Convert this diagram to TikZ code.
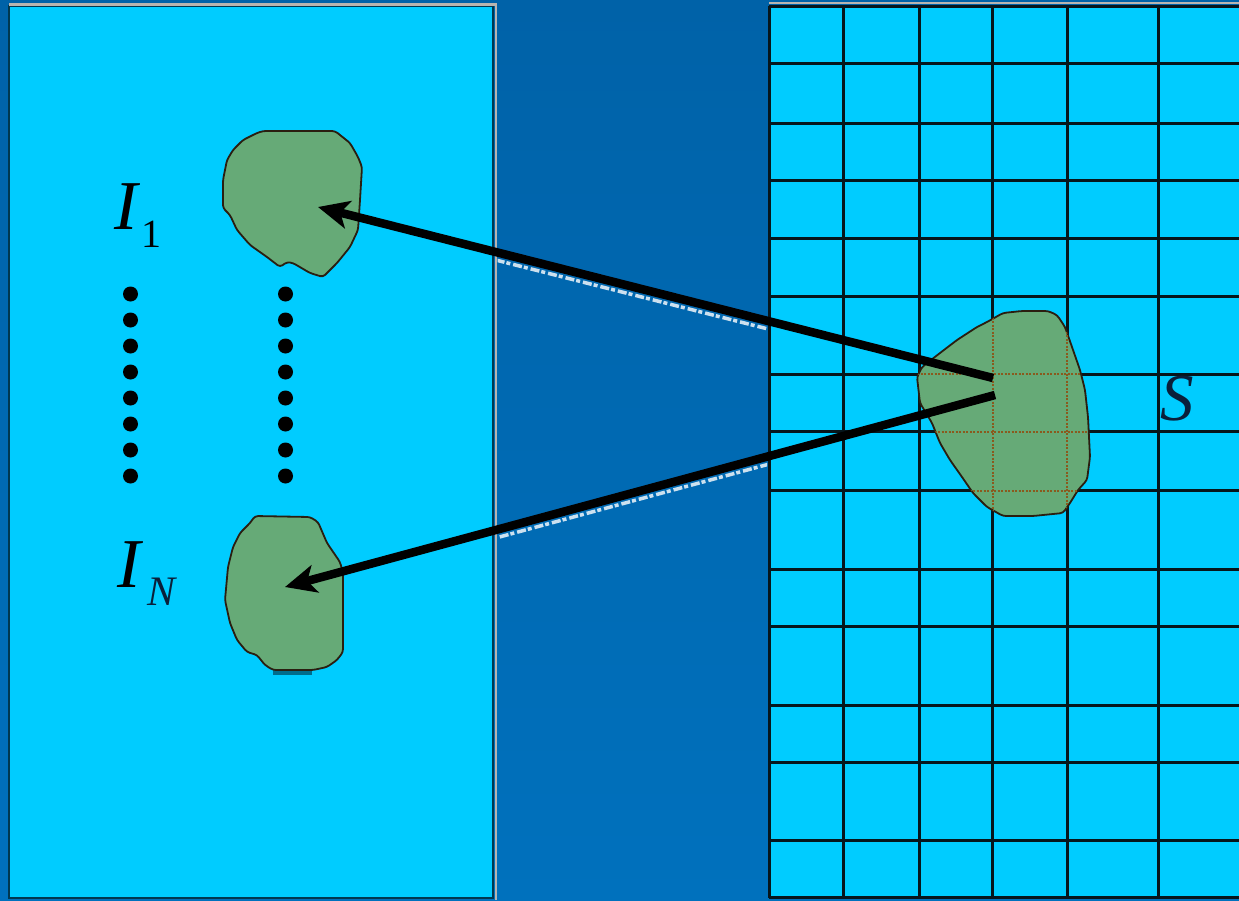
\documentclass[tikz,border=0pt]{standalone}
\usepackage{fontspec}
\setmainfont{Liberation Serif}
\usetikzlibrary{arrows.meta,calc}
\definecolor{bgtop}{HTML}{0062A8}
\definecolor{bgbot}{HTML}{0071BD}
\definecolor{panel}{HTML}{00CCFF}
\definecolor{blobfill}{HTML}{66AA77}
\definecolor{blobline}{HTML}{2A1E10}
\definecolor{browndot}{HTML}{8A5A1E}
\definecolor{rim}{HTML}{B8B4B0}
\definecolor{edge}{HTML}{003850}
\definecolor{gridline}{HTML}{06161C}
\definecolor{snavy}{HTML}{0A1F3A}
\definecolor{teal}{HTML}{006C8C}
\tikzset{
  gridln/.style={draw=gridline, line width=3pt},
  blobshape/.style={fill=blobfill, draw=blobline, line width=1.8pt, rounded corners=3pt},
  dotgrid/.style={draw=browndot, line width=2pt, dash pattern=on 2pt off 1.5pt},
  dotmark/.style={circle, fill=black, inner sep=0pt, minimum size=15pt},
  lbl/.style={inner sep=0pt, font=\fontsize{70}{70}\selectfont\itshape},
  arr/.style={draw=black, line width=8.5pt, -{Stealth[length=31pt,width=28pt,inset=8pt]}},
  ghost/.style={draw=white, opacity=0.8, line width=3.5pt, dash pattern=on 9pt off 3pt on 4pt off 2pt}
}
\begin{document}
\begin{tikzpicture}[x=1pt,y=-1pt]
\useasboundingbox (0,0) rectangle (1239,900);
% background
\shade[top color=bgtop, bottom color=bgbot] (0,0) rectangle (1239,900);
% left panel
\fill[panel] (9,6) rectangle (493,898);
\draw[edge, line width=1.2pt] (9,6) rectangle (493,898);
\draw[rim, line width=2.4pt] (9,4.5) -- (495.8,4.5) -- (495.8,900);
% right panel
\fill[panel] (769,6) rectangle (1245,897);
\draw[rim, line width=1.5pt] (769,2.8) -- (1239,2.8);
\foreach \x in {769.3, 843.3, 919, 992.5, 1067, 1158}
  \draw[gridln] (\x,6) -- (\x,898);
\foreach \y in {6.7, 63.3, 123.3, 180, 238.3, 296.7, 374, 431.7, 490.5, 569, 626, 705, 762, 840.7, 897}
  \draw[gridln] (769,\y) -- (1239,\y);
% blob I1
\draw[blobshape] (263,131) -- (335,131) -- (350,143) -- (358,157) -- (362,167) -- (360,200) -- (358,230) -- (350,247) -- (337,263) -- (323,277) -- (310,273) -- (293,263) -- (287,262) -- (280,267) -- (267,257) -- (250,245) -- (237,230) -- (230,215) -- (223,208) -- (223,180) -- (227,160) -- (233,150) -- (243,140) -- (257,133) -- cycle;
% blob IN
\fill[teal] (273,668) rectangle (312,675);
\draw[blobshape] (255,516) -- (310,517) -- (318,522) -- (327,543) -- (340,562) -- (343,573) -- (343,652) -- (337,660) -- (327,667) -- (313,670) -- (273,670) -- (265,665) -- (257,655) -- (247,652) -- (237,640) -- (230,623) -- (225,600) -- (228,567) -- (233,547) -- (240,533) -- (250,523) -- cycle;
% blob S
\path[blobshape] (1003,313) -- (1022,311) -- (1048,311) -- (1057,315) -- (1065,327) -- (1072,347) -- (1080,370) -- (1085,390) -- (1088,417) -- (1090,457) -- (1087,480) -- (1078,490) -- (1070,503) -- (1063,513) -- (1033,516) -- (1003,516) -- (987,507) -- (973,493) -- (962,477) -- (950,460) -- (940,443) -- (932,423) -- (920,403) -- (917,377) -- (922,367) -- (940,353) -- (957,340) -- (977,327) -- (987,322) -- cycle;
\begin{scope}
\clip (1003,313) -- (1022,311) -- (1048,311) -- (1057,315) -- (1065,327) -- (1072,347) -- (1080,370) -- (1085,390) -- (1088,417) -- (1090,457) -- (1087,480) -- (1078,490) -- (1070,503) -- (1063,513) -- (1033,516) -- (1003,516) -- (987,507) -- (973,493) -- (962,477) -- (950,460) -- (940,443) -- (932,423) -- (920,403) -- (917,377) -- (922,367) -- (940,353) -- (957,340) -- (977,327) -- (987,322) -- cycle;
\foreach \x in {992.5, 1067}
  \draw[dotgrid] (\x,300) -- (\x,520);
\foreach \y in {374, 431.7, 490.5}
  \draw[dotgrid] (910,\y) -- (1095,\y);
\end{scope}
% dots
\foreach \i in {0,...,7} {
  \node[dotmark] (dl\i) at (130.5, 294+26*\i) {};
  \node[dotmark] (dr\i) at (285.5, 294+26*\i) {};
}
% labels
\node[lbl, anchor=base west] (I1) at (114,229) {I\kern4pt\raisebox{-18pt}{\fontsize{40}{40}\selectfont\upshape 1}};
\node[lbl, anchor=base west] (IN) at (117,587) {I\kern7pt\raisebox{-18pt}{\fontsize{42}{42}\selectfont\color{snavy}N}};
\node[lbl, anchor=base west, text=snavy, font=\fontsize{67}{67}\selectfont\itshape] (S) at (1160,420) {S};
% arrows
\coordinate (s1) at (993,378);
\coordinate (t1) at (318,207);
\coordinate (s2) at (995,395);
\coordinate (t2) at (285,587);
\begin{scope}
\clip (497.5,0) rectangle (767,900);
\draw[ghost] ($(s1)+(0,8)$) -- ($(t1)+(0,8)$);
\draw[ghost] ($(s2)+(0,8)$) -- ($(t2)+(0,8)$);
\end{scope}
\draw[arr] (s1) -- (t1);
\draw[arr] (s2) -- (t2);
\end{tikzpicture}
\end{document}
